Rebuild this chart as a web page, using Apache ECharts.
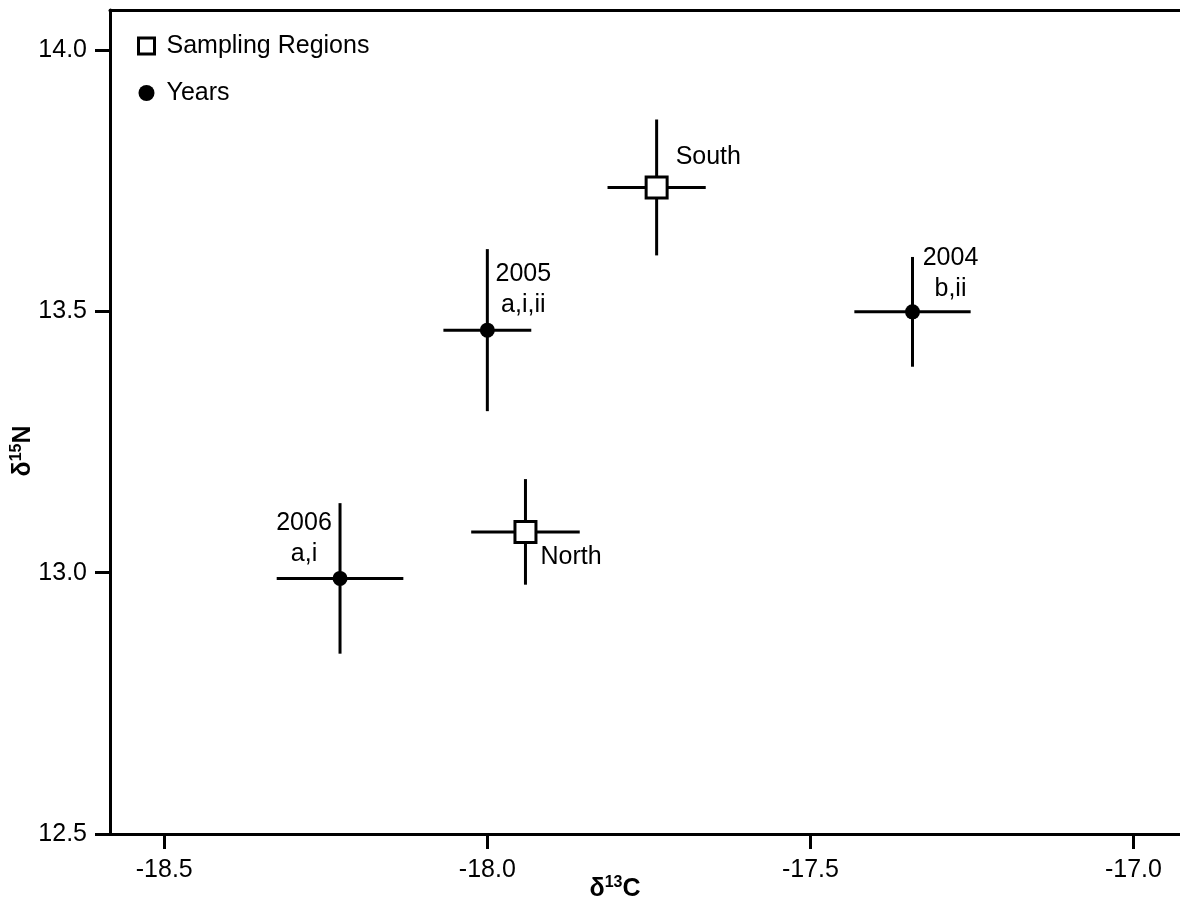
<!DOCTYPE html>
<html><head><meta charset="utf-8">
<script src="https://cdn.jsdelivr.net/npm/echarts@6/dist/echarts.min.js"></script>
<style>html,body{margin:0;padding:0;background:#fff}#c{width:1180px;height:907px}</style>
</head><body><div id="c"></div>
<script>
// ---- data ----
const regionNames = ['North', 'South'];
const regionC = [-17.941, -17.738];
const regionN = [13.078, 13.737];
const regionCErr = [0.084, 0.076];
const regionNErr = [0.101, 0.130];

const yearNames = ['2006', '2005', '2004'];
const yearLetters = ['a,i', 'a,i,ii', 'b,ii'];
const yearC = [-18.228, -18.000, -17.342];
const yearN = [12.989, 13.464, 13.499];
const yearCErr = [0.098, 0.068, 0.090];
const yearNErr = [0.144, 0.155, 0.105];

const xTicks = [-18.5, -18.0, -17.5, -17.0];
const yTicks = [12.5, 13.0, 13.5, 14.0];

// ---- style ----
const FONT = '"Liberation Sans", Arial, sans-serif';
const labelPlace = {
  'North': {offset: [15, 25], align: 'left'},
  'South': {offset: [19, -30], align: 'left'},
  '2006': {offset: [-36, -40], align: 'center'},
  '2005': {offset: [36, -41], align: 'center'},
  '2004': {offset: [38, -38], align: 'center'}
};

const chart = echarts.init(document.getElementById('c'), null, {renderer: 'canvas'});

function errRender(params, api) {
  const x = api.value(0), y = api.value(1), ex = api.value(2), ey = api.value(3);
  const l = api.coord([x - ex, y]), r = api.coord([x + ex, y]);
  const t = api.coord([x, y + ey]), b = api.coord([x, y - ey]);
  const st = {stroke: '#000', lineWidth: 3};
  return {type: 'group', children: [
    {type: 'line', shape: {x1: l[0], y1: l[1], x2: r[0], y2: r[1]}, style: st},
    {type: 'line', shape: {x1: t[0], y1: t[1], x2: b[0], y2: b[1]}, style: st}
  ]};
}

const errData = regionNames.map((n, i) => [regionC[i], regionN[i], regionCErr[i], regionNErr[i]])
  .concat(yearNames.map((n, i) => [yearC[i], yearN[i], yearCErr[i], yearNErr[i]]));

const baseLabel = {show: true, position: 'inside', fontSize: 25, color: '#000', fontFamily: FONT,
  lineHeight: 31, textBorderWidth: 0};

const axisFont = {fontSize: 25, color: '#000', fontFamily: FONT};

const option = {
  animation: false,
  backgroundColor: '#fff',
  grid: {left: 110, right: 0, top: 10, bottom: 73, containLabel: false},
  xAxis: [{
    type: 'value', min: -18.584, max: -16.928, position: 'bottom',
    axisLine: {show: true, onZero: false, lineStyle: {color: '#000', width: 3}},
    axisTick: {show: true, customValues: xTicks, length: 15, lineStyle: {color: '#000', width: 3}},
    axisLabel: Object.assign({customValues: xTicks, margin: 24, formatter: v => v.toFixed(1)}, axisFont),
    splitLine: {show: false}
  }, {
    type: 'value', min: -18.584, max: -16.928, position: 'top',
    axisLine: {show: true, onZero: false, lineStyle: {color: '#000', width: 3}},
    axisTick: {show: false}, axisLabel: {show: false}, splitLine: {show: false}
  }],
  yAxis: {
    type: 'value', min: 12.5, max: 14.0765,
    axisLine: {show: true, onZero: false, lineStyle: {color: '#000', width: 3}},
    axisTick: {show: true, customValues: yTicks, length: 15, lineStyle: {color: '#000', width: 3}},
    axisLabel: Object.assign({customValues: yTicks, margin: 23, formatter: v => v.toFixed(1)}, axisFont),
    splitLine: {show: false}
  },
  legend: {
    orient: 'vertical', left: 132, top: 26, itemWidth: 16, itemHeight: 16, itemGap: 17,
    selectedMode: false,
    data: [
      {name: 'Sampling Regions', icon: 'rect', itemStyle: {color: '#fff', borderColor: '#000', borderWidth: 3}},
      {name: 'Years', icon: 'circle'}
    ],
    textStyle: {fontSize: 25, color: '#000', fontFamily: FONT, lineHeight: 30, padding: [0, 0, 0, 7]}
  },
  graphic: [
    {type: 'text', x: 23, y: 451, rotation: Math.PI / 2, z: 10,
      style: {text: '{b|δ}{s|15}{b|N}', align: 'center', verticalAlign: 'middle',
        rich: {b: {fontSize: 25, fontWeight: 'bold', fontFamily: FONT, fill: '#000', lineHeight: 28},
               s: {fontSize: 16, fontWeight: 'bold', fontFamily: FONT, fill: '#000', lineHeight: 16, verticalAlign: 'top'}}}},
    {type: 'text', x: 615, y: 889, z: 10,
      style: {text: '{b|δ}{s|13}{b|C}', align: 'center', verticalAlign: 'middle',
        rich: {b: {fontSize: 25, fontWeight: 'bold', fontFamily: FONT, fill: '#000', lineHeight: 28},
               s: {fontSize: 16, fontWeight: 'bold', fontFamily: FONT, fill: '#000', lineHeight: 16, verticalAlign: 'top'}}}}
  ],
  series: [
    {type: 'custom', name: 'err', renderItem: errRender, data: errData, z: 1, silent: true,
      encode: {x: 0, y: 1}},
    {type: 'scatter', name: 'Sampling Regions', symbol: 'rect', symbolSize: 21, z: 3, silent: true,
      itemStyle: {color: '#fff', borderColor: '#000', borderWidth: 3, opacity: 1},
      label: Object.assign({}, baseLabel, {formatter: p => p.name}),
      data: regionNames.map((n, i) => ({name: n, value: [regionC[i], regionN[i]],
        label: labelPlace[n]}))},
    {type: 'scatter', name: 'Years', symbol: 'circle', symbolSize: 15, z: 3, silent: true,
      itemStyle: {color: '#000', opacity: 1},
      label: Object.assign({}, baseLabel, {formatter: p => yearNames[p.dataIndex] + '\n' + yearLetters[p.dataIndex]}),
      data: yearNames.map((n, i) => ({name: n, value: [yearC[i], yearN[i]],
        label: labelPlace[n]}))}
  ]
};
chart.setOption(option);
</script>
</body></html>
